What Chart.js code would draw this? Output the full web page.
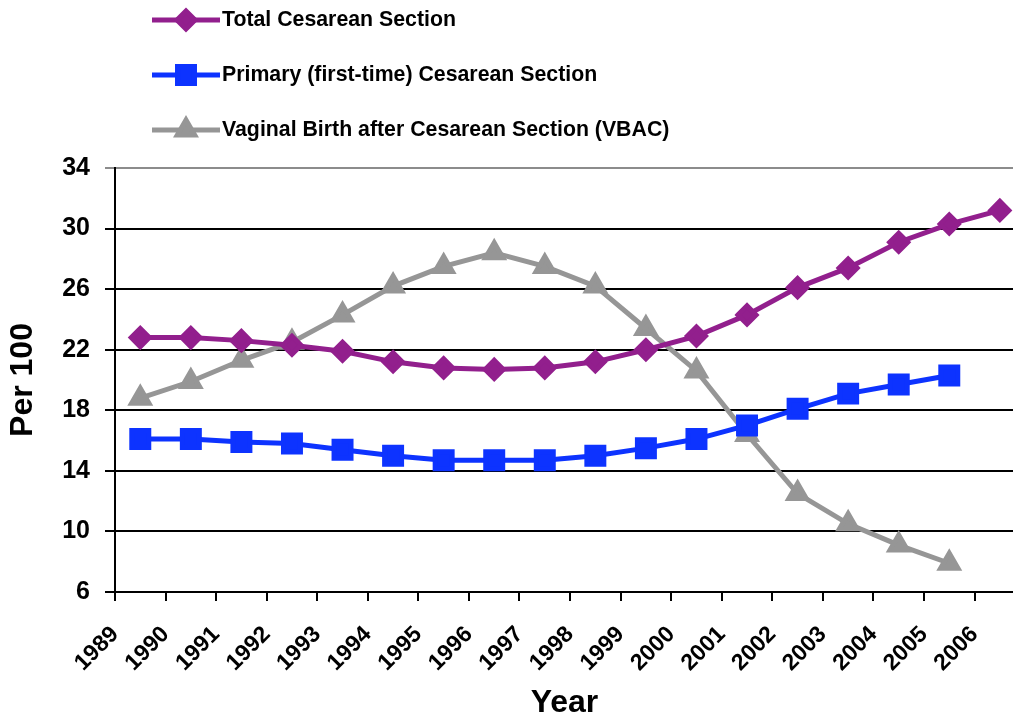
<!DOCTYPE html>
<html>
<head>
<meta charset="utf-8">
<script src="https://cdn.jsdelivr.net/npm/chart.js@4/dist/chart.umd.min.js"></script>
<style>
html, body { margin: 0; padding: 0; background: #fff; overflow: hidden; }
#wrap { width: 1013px; height: 717px; overflow: hidden; }
</style>
</head>
<body>
<!-- the original plot runs past the right edge of the picture, so the canvas is wider and cropped -->
<div id="wrap"><canvas id="cesareanChart" width="1031" height="717"></canvas></div>
<script>
// data
const years = ['1989', '1990', '1991', '1992', '1993', '1994', '1995', '1996', '1997',
               '1998', '1999', '2000', '2001', '2002', '2003', '2004', '2005', '2006'];
const totalCesarean = [22.8, 22.8, 22.6, 22.3, 21.9, 21.2, 20.8, 20.7, 20.8,
                       21.2, 22.0, 22.9, 24.3, 26.1, 27.4, 29.1, 30.3, 31.2];
const primaryCesarean = [16.1, 16.1, 15.9, 15.8, 15.4, 15.0, 14.7, 14.7, 14.7,
                         15.0, 15.5, 16.1, 17.0, 18.1, 19.1, 19.7, 20.3, null];
const vbac = [18.8, 19.9, 21.3, 22.5, 24.3, 26.2, 27.5, 28.4, 27.5,
              26.2, 23.4, 20.6, 16.4, 12.5, 10.5, 9.1, 7.9, null];
const yTicks = [6, 10, 14, 18, 22, 26, 30, 34];

const fontFamily = '"Liberation Sans", Arial, sans-serif';
let chartElement = document.getElementById('cesareanChart');

// points sit in the middle of each year slot, labels on the slot edges
function toPoints(values) {
    return values.map((v, i) => ({ x: i + 0.5, y: v }));
}

// legend stacked on the top left, line with marker then label
const legendRows = [20, 75, 130];
const sideLegend = {
    id: 'sideLegend',
    afterDraw(chart) {
        const ctx = chart.ctx;
        chart.data.datasets.forEach((ds, i) => {
            const y = legendRows[i];
            ctx.save();
            ctx.strokeStyle = ds.borderColor;
            ctx.lineWidth = 5;
            ctx.beginPath();
            ctx.moveTo(152, y);
            ctx.lineTo(220, y);
            ctx.stroke();
            ctx.fillStyle = ds.pointBackgroundColor;
            ctx.strokeStyle = ds.pointBackgroundColor;
            Chart.helpers.drawPoint(ctx, {
                pointStyle: ds.pointStyle,
                radius: ds.pointRadius,
                rotation: 0,
                borderWidth: 1
            }, 186, y);
            ctx.fillStyle = '#000';
            ctx.font = 'bold 21.3px ' + fontFamily;
            ctx.textBaseline = 'middle';
            ctx.textAlign = 'left';
            ctx.fillText(ds.label, 222, y);
            ctx.restore();
        });
    }
};

const cesareanChart = new Chart(chartElement, {
    type: 'line',
    data: {
        datasets: [{
            label: 'Total Cesarean Section',
            data: toPoints(totalCesarean),
            borderColor: '#921F8D',
            backgroundColor: '#921F8D',
            pointBackgroundColor: '#921F8D',
            pointBorderColor: '#921F8D',
            pointStyle: 'rectRot',
            pointRadius: 9,
            borderWidth: 5
        }, {
            label: 'Primary (first-time) Cesarean Section',
            data: toPoints(primaryCesarean),
            borderColor: '#0D33FF',
            backgroundColor: '#0D33FF',
            pointBackgroundColor: '#0D33FF',
            pointBorderColor: '#0D33FF',
            pointStyle: 'rect',
            pointRadius: 12,
            borderWidth: 5
        }, {
            label: 'Vaginal Birth after Cesarean Section (VBAC)',
            data: toPoints(vbac),
            borderColor: '#969696',
            backgroundColor: '#969696',
            pointBackgroundColor: '#969696',
            pointBorderColor: '#969696',
            pointStyle: 'triangle',
            pointRadius: 10,
            borderWidth: 5
        }]
    },
    options: {
        responsive: false,
        animation: false,
        layout: { padding: { top: 168, right: 0, left: 0, bottom: 0 } },
        elements: { line: { tension: 0 }, point: { hoverRadius: 0 } },
        plugins: {
            legend: { display: false },
            tooltip: { enabled: false }
        },
        scales: {
            x: {
                type: 'linear',
                position: 'bottom',
                min: 0,
                max: 17.78,
                afterBuildTicks: (scale) => {
                    scale.ticks = scale.ticks.filter(t => Number.isInteger(t.value) && t.value < years.length);
                },
                afterFit: (scale) => {
                    scale.height = 125;
                    scale.paddingRight = 0;
                    scale.paddingLeft = 0;
                },
                ticks: {
                    stepSize: 1,
                    includeBounds: false,
                    autoSkip: false,
                    minRotation: 45,
                    maxRotation: 45,
                    padding: 20,
                    color: '#000',
                    font: { family: fontFamily, size: 23, weight: 'bold' },
                    callback: (value) => years[value]
                },
                grid: {
                    drawOnChartArea: false,
                    drawTicks: true,
                    tickLength: 9,
                    color: '#000',
                    lineWidth: 2
                },
                border: { color: '#000', width: 2 },
                title: {
                    display: true,
                    text: 'Year',
                    color: '#000',
                    padding: { top: 0, bottom: -2 },
                    font: { family: fontFamily, size: 32, weight: 'bold', lineHeight: 1 }
                }
            },
            y: {
                min: 6,
                max: 34,
                afterBuildTicks: (scale) => {
                    scale.ticks = yTicks.map(v => ({ value: v }));
                },
                afterFit: (scale) => { scale.width = 115; },
                ticks: {
                    padding: 15,
                    color: '#000',
                    font: { family: fontFamily, size: 25, weight: 'bold' }
                },
                grid: {
                    tickLength: 10,
                    lineWidth: 2,
                    color: (c) => c.tick && c.tick.value === 34 ? '#8c8c8c' : '#000'
                },
                border: { color: '#000', width: 2 },
                title: {
                    display: true,
                    text: 'Per 100',
                    color: '#000',
                    padding: { top: 4, bottom: 0 },
                    font: { family: fontFamily, size: 32, weight: 'bold' }
                }
            }
        }
    },
    plugins: [sideLegend]
});
</script>
</body>
</html>
